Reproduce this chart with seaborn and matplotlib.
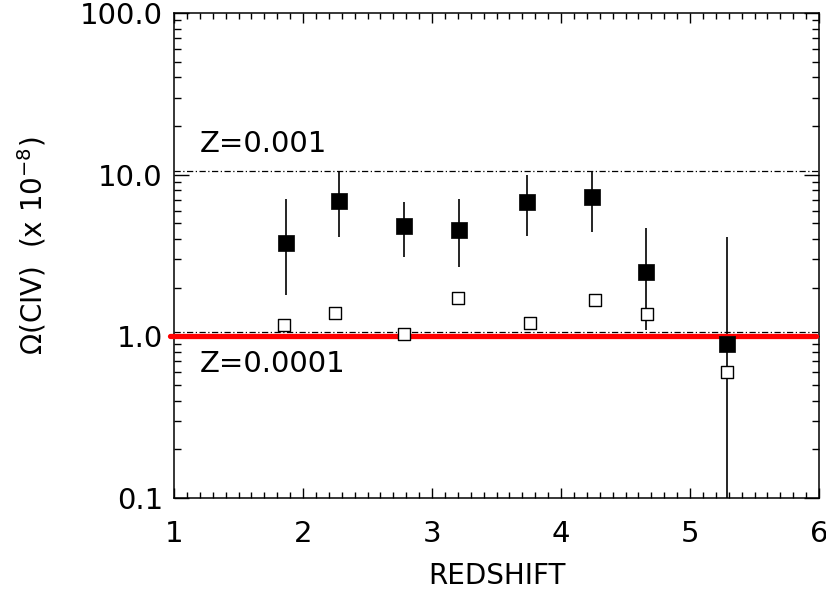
import matplotlib
matplotlib.use("Agg")
import matplotlib.pyplot as plt
import matplotlib.ticker as mticker
import seaborn as sns
import pandas as pd
import numpy as np

# ---- data ----
z_filled = [1.87, 2.28, 2.78, 3.21, 3.74, 4.24, 4.66, 5.29]
omega_filled = [3.8, 6.9, 4.8, 4.55, 6.8, 7.3, 2.5, 0.90]
err_high = [7.1, 10.5, 6.8, 7.1, 10.0, 10.6, 4.7, 4.1]
err_low = [1.8, 4.1, 3.1, 2.7, 4.2, 4.4, 1.1, 0.05]

z_open = [1.85, 2.25, 2.78, 3.20, 3.76, 4.26, 4.67, 5.29]
omega_open = [1.18, 1.40, 1.04, 1.73, 1.21, 1.68, 1.38, 0.60]

metal_levels = [10.5, 1.07]
metal_labels = ["Z=0.001", "Z=0.0001"]
label_pos_x = [1.20, 1.20]
label_pos_y = [13.9, 0.60]
reference_level = 1.0

x_ticks = [1, 2, 3, 4, 5, 6]
y_ticks = [0.1, 1.0, 10.0, 100.0]
y_tick_labels = ["0.1", "1.0", "10.0", "100.0"]

df_f = pd.DataFrame({"z": z_filled, "omega": omega_filled})
df_o = pd.DataFrame({"z": z_open, "omega": omega_open})

sns.set_style("ticks")
plt.rcParams["font.family"] = ["DejaVu Sans"]
plt.rcParams["text.color"] = "black"
plt.rcParams["axes.labelcolor"] = "black"
plt.rcParams["xtick.color"] = "black"
plt.rcParams["ytick.color"] = "black"

fig = plt.figure(figsize=(8.26, 5.91), dpi=100)
ax = fig.add_axes([174 / 826, 1 - 498 / 591, 645 / 826, 485 / 591])
ax.set_yscale("log")

# error bars
ax.vlines(z_filled, err_low, err_high, color="black", lw=1.2, zorder=2)

# dash-dot metallicity lines
for lvl in metal_levels:
    ax.axhline(lvl, color="black", lw=0.9, dashes=(5, 2, 1, 2), zorder=1)

# red reference line
ax.axhline(reference_level, xmin=-0.006, xmax=0.995, color="#ff0000",
           lw=3.8, clip_on=False, zorder=3)

sns.scatterplot(data=df_o, x="z", y="omega", ax=ax, marker="s", s=85,
                facecolor="white", edgecolor="black", linewidth=1.0, zorder=4)
sns.scatterplot(data=df_f, x="z", y="omega", ax=ax, marker="s", s=125,
                color="black", edgecolor="black", linewidth=0.5, zorder=5)

for t, xx, yy in zip(metal_labels, label_pos_x, label_pos_y):
    ax.text(xx, yy, t, fontsize=21, ha="left", va="baseline", color="black")

ax.set_xlim(1, 6)
ax.set_ylim(0.1, 100)
ax.set_xticks(x_ticks)
ax.set_xticklabels([str(v) for v in x_ticks])
ax.xaxis.set_minor_locator(mticker.MultipleLocator(0.1))
ax.set_yticks(y_ticks)
ax.set_yticklabels(y_tick_labels)
ax.yaxis.set_minor_locator(mticker.LogLocator(base=10, subs=np.arange(2, 10)))
ax.yaxis.set_minor_formatter(mticker.NullFormatter())

ax.tick_params(which="both", direction="in", top=True, right=True,
               width=1.0, color="black", labelcolor="black")
ax.tick_params(axis="x", which="major", length=7, labelsize=21, pad=16)
ax.tick_params(axis="x", which="minor", length=4)
ax.tick_params(axis="y", which="major", length=11, labelsize=21, pad=8)
ax.tick_params(axis="y", which="minor", length=5)

for sp in ax.spines.values():
    sp.set_visible(True)
    sp.set_linewidth(1.1)
    sp.set_color("black")

ax.set_xlabel("REDSHIFT", fontsize=20, labelpad=10, color="black")
ax.set_ylabel(r"$\Omega$(CIV)  (x 10$^{-8}$)", fontsize=20, color="black")
ax.yaxis.set_label_coords(-0.195, 0.52)

fig.savefig("out.png", dpi=100, facecolor="white")
